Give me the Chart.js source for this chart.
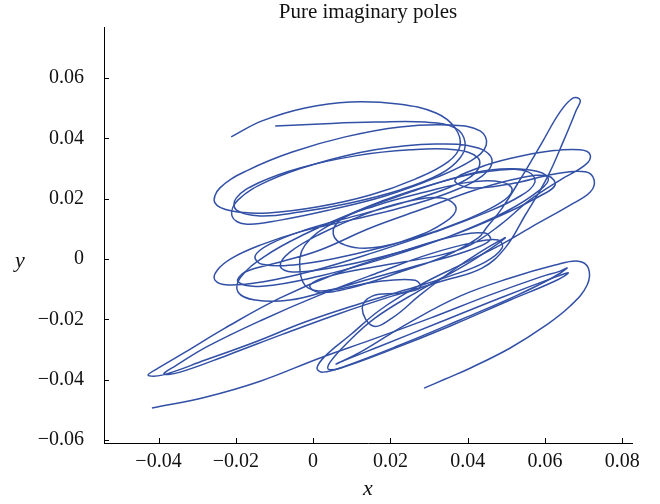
<!DOCTYPE html>
<html>
<head>
<meta charset="utf-8">
<script src="https://cdn.jsdelivr.net/npm/chart.js@4/dist/chart.umd.min.js"></script>
<style>
  body { margin: 0; background: #fff; }
  #wrap { width: 660px; height: 504px; }
</style>
</head>
<body>
<div id="wrap"><canvas id="chart" width="660" height="504"></canvas></div>
<script>
// trajectory, two pieces (x / y pairs)
const pieceAx = [-0.0212, -0.0132, -0.0021, 0.0096, 0.0220, 0.0318, 0.0367, 0.0380, 0.0349, 0.0264,
  0.0148, 0.0013, -0.0116, -0.0210, -0.0254, -0.0241, -0.0168, -0.0054, 0.0083, 0.0225,
  0.0355, 0.0432, 0.0448, 0.0411, 0.0316, 0.0186, 0.0044, -0.0085, -0.0176, -0.0210,
  -0.0194, -0.0116, 0.0005, 0.0160, 0.0316, 0.0427, 0.0463, 0.0437, 0.0349, 0.0225,
  0.0096, -0.0034, -0.0137, -0.0210, -0.0248, -0.0254, -0.0220, -0.0132, 0.0005, 0.0160,
  0.0316, 0.0445, 0.0536, 0.0574, 0.0556, 0.0484, 0.0367, 0.0238, 0.0109, -0.0021,
  -0.0124, -0.0189, -0.0194, -0.0150, -0.0060, 0.0044, 0.0173, 0.0303, 0.0406, 0.0458,
  0.0445, 0.0367, 0.0225, 0.0070, -0.0085, -0.0228, -0.0331, -0.0401, -0.0427, -0.0391,
  -0.0279, -0.0150, -0.0021, 0.0109, 0.0238, 0.0355, 0.0445, 0.0489, 0.0479, 0.0419,
  0.0303, 0.0173, 0.0018, -0.0132, -0.0272, -0.0357, -0.0386, -0.0344, -0.0220, -0.0078,
  0.0065, 0.0204, 0.0334, 0.0437, 0.0497, 0.0549, 0.0605, 0.0649, 0.0681, 0.0691,
  0.0673, 0.0639, 0.0593, 0.0541, 0.0489, 0.0448, 0.0427, 0.0342, 0.0225, 0.0096,
  0.0013, -0.0008, 0.0044, 0.0173, 0.0329, 0.0406, 0.0484, 0.0561, 0.0639, 0.0704,
  0.0717, 0.0691, 0.0613, 0.0515, 0.0427, 0.0367, 0.0406, 0.0510, 0.0626, 0.0704,
  0.0727, 0.0717, 0.0665, 0.0574, 0.0484, 0.0380, 0.0277, 0.0173, 0.0096, 0.0031,
  0.0010, 0.0026, 0.0083, 0.0225, 0.0380, 0.0523, 0.0618, 0.0657, 0.0639, 0.0587,
  0.0458, 0.0303, 0.0148, 0.0018, -0.0137, -0.0279, -0.0417];
const pieceAy = [0.0405, 0.0458, 0.0501, 0.0521, 0.0514, 0.0484, 0.0435, 0.0375, 0.0322, 0.0265,
  0.0212, 0.0173, 0.0153, 0.0159, 0.0186, 0.0236, 0.0295, 0.0355, 0.0405, 0.0438,
  0.0444, 0.0425, 0.0378, 0.0328, 0.0269, 0.0209, 0.0163, 0.0129, 0.0116, 0.0143,
  0.0196, 0.0259, 0.0315, 0.0362, 0.0381, 0.0368, 0.0328, 0.0275, 0.0219, 0.0169,
  0.0129, 0.0090, 0.0046, 0.0003, -0.0037, -0.0070, -0.0086, -0.0076, -0.0037, 0.0023,
  0.0090, 0.0153, 0.0209, 0.0255, 0.0289, 0.0295, 0.0269, 0.0216, 0.0156, 0.0083,
  0.0010, -0.0063, -0.0110, -0.0136, -0.0136, -0.0103, -0.0056, -0.0010, 0.0030, 0.0063,
  0.0086, 0.0076, 0.0023, -0.0043, -0.0129, -0.0229, -0.0309, -0.0362, -0.0385, -0.0385,
  -0.0335, -0.0275, -0.0209, -0.0153, -0.0103, -0.0056, -0.0010, 0.0037, 0.0063, 0.0056,
  0.0017, -0.0043, -0.0119, -0.0202, -0.0289, -0.0355, -0.0381, -0.0375, -0.0318, -0.0249,
  -0.0182, -0.0123, -0.0073, -0.0030, 0.0037, 0.0146, 0.0269, 0.0395, 0.0494, 0.0527,
  0.0534, 0.0488, 0.0388, 0.0275, 0.0169, 0.0103, 0.0070, 0.0010, -0.0043, -0.0096,
  -0.0110, -0.0086, -0.0056, -0.0023, 0.0013, 0.0046, 0.0113, 0.0196, 0.0262, 0.0312,
  0.0345, 0.0362, 0.0358, 0.0335, 0.0302, 0.0262, 0.0236, 0.0249, 0.0282, 0.0289,
  0.0262, 0.0222, 0.0179, 0.0113, 0.0046, -0.0020, -0.0086, -0.0169, -0.0252, -0.0322,
  -0.0362, -0.0375, -0.0355, -0.0285, -0.0202, -0.0123, -0.0063, -0.0030, -0.0040, -0.0060,
  -0.0119, -0.0196, -0.0269, -0.0328, -0.0405, -0.0458, -0.0494];

const pieceBx = [-0.0098, 0.0018, 0.0160, 0.0290, 0.0367, 0.0393, 0.0380, 0.0329, 0.0225, 0.0096,
  -0.0034, -0.0137, -0.0199, -0.0199, -0.0142, -0.0034, 0.0109, 0.0251, 0.0367, 0.0427,
  0.0422, 0.0355, 0.0238, 0.0109, -0.0021, -0.0111, -0.0150, -0.0132, -0.0034, 0.0109,
  0.0264, 0.0393, 0.0484, 0.0515, 0.0489, 0.0406, 0.0290, 0.0160, 0.0070, 0.0052,
  0.0083, 0.0153, 0.0256, 0.0342, 0.0370, 0.0334, 0.0238, 0.0135, 0.0018, -0.0060,
  -0.0085, -0.0054, 0.0044, 0.0186, 0.0342, 0.0484, 0.0587, 0.0626, 0.0608, 0.0536,
  0.0419, 0.0290, 0.0148, 0.0018,
  -0.0085, -0.0176, -0.0194, -0.0132, 0.0018, 0.0186, 0.0354, 0.0497, 0.0587, 0.0608,
  0.0561, 0.0458, 0.0329, 0.0186, 0.0057, -0.0021,
  -0.0034, -0.0013, 0.0044, 0.0160, 0.0264, 0.0277,
  0.0225, 0.0153, 0.0127, 0.0155, 0.0204, 0.0277, 0.0355, 0.0432, 0.0497, 0.0406,
  0.0277, 0.0160, 0.0083, 0.0044, 0.0039, 0.0070, 0.0199, 0.0355, 0.0510, 0.0626,
  0.0660, 0.0626, 0.0484, 0.0329, 0.0173, 0.0083, 0.0060, 0.0122, 0.0251, 0.0380,
  0.0510, 0.0626, 0.0686, 0.0712, 0.0709, 0.0665, 0.0600, 0.0510, 0.0406, 0.0342,
  0.0287];
const pieceBy = [0.0441, 0.0448, 0.0454, 0.0454, 0.0435, 0.0388, 0.0335, 0.0282, 0.0229, 0.0186,
  0.0156, 0.0143, 0.0163, 0.0202, 0.0252, 0.0302, 0.0342, 0.0362, 0.0362, 0.0335,
  0.0289, 0.0239, 0.0189, 0.0143, 0.0096, 0.0050, 0.0010, -0.0017, -0.0017, 0.0017,
  0.0070, 0.0129, 0.0186, 0.0229, 0.0255, 0.0255, 0.0222, 0.0176, 0.0129, 0.0083,
  0.0046, 0.0037, 0.0070, 0.0123, 0.0169, 0.0202, 0.0189, 0.0149, 0.0083, 0.0023,
  -0.0023, -0.0043, -0.0030, 0.0010, 0.0070, 0.0143, 0.0209, 0.0245, 0.0275, 0.0269,
  0.0229, 0.0169, 0.0103, 0.0030,
  -0.0010, -0.0043, -0.0076, -0.0090, -0.0056, 0.0003, 0.0076, 0.0156, 0.0229, 0.0269,
  0.0295, 0.0295, 0.0255, 0.0196, 0.0123, 0.0046,
  -0.0037, -0.0096, -0.0103, -0.0076, -0.0070, -0.0096,
  -0.0113, -0.0123, -0.0163, -0.0222, -0.0196, -0.0119, -0.0043, 0.0023, 0.0070, -0.0010,
  -0.0103, -0.0196, -0.0285, -0.0342, -0.0365, -0.0362, -0.0302, -0.0222, -0.0136, -0.0073,
  -0.0046, -0.0060, -0.0129, -0.0209, -0.0289, -0.0335, -0.0348, -0.0309, -0.0209, -0.0123,
  -0.0063, -0.0020, -0.0007, -0.0030, -0.0086, -0.0156, -0.0222, -0.0295, -0.0362, -0.0398,
  -0.0428];

const xTicks = [-0.04, -0.02, 0, 0.02, 0.04, 0.06, 0.08];
const yTicks = [-0.06, -0.04, -0.02, 0, 0.02, 0.04, 0.06];

const lineColor = '#3250a5';
const serif = "'Liberation Serif', 'DejaVu Serif', serif";

function toPoints(xs, ys) {
  return xs.map((x, i) => ({ x: x, y: ys[i] }));
}

function fmt(v) {
  if (Math.abs(v) < 1e-9) return '0';
  return (v < 0 ? '\u2212' : '') + Math.abs(v).toFixed(2);
}

// Mathematica-style ticks pointing into the plot, and the upright "y" label
const axisExtras = {
  id: 'axisExtras',
  afterDraw(chart) {
    const { ctx, chartArea, scales } = chart;
    ctx.save();
    ctx.strokeStyle = '#000';
    ctx.lineWidth = 1;
    ctx.beginPath();
    xTicks.forEach(v => {
      const px = Math.round(scales.x.getPixelForValue(v)) + 0.5;
      ctx.moveTo(px, chartArea.bottom);
      ctx.lineTo(px, chartArea.bottom - 5);
    });
    yTicks.forEach(v => {
      const py = Math.round(scales.y.getPixelForValue(v)) + 0.5;
      ctx.moveTo(chartArea.left, py);
      ctx.lineTo(chartArea.left + 5, py);
    });
    ctx.stroke();
    ctx.fillStyle = '#111';
    ctx.font = 'italic 22px ' + serif;
    ctx.textAlign = 'center';
    ctx.textBaseline = 'middle';
    ctx.fillText('y', 20, scales.y.getPixelForValue(0) + 2);
    ctx.restore();
  }
};

new Chart(document.getElementById('chart'), {
  type: 'scatter',
  data: {
    datasets: [
      { data: toPoints(pieceAx, pieceAy) },
      { data: toPoints(pieceBx, pieceBy) }
    ].map(d => Object.assign(d, {
      showLine: true,
      borderColor: lineColor,
      borderWidth: 1.5,
      pointRadius: 0,
      tension: 0.4,
      fill: false
    }))
  },
  options: {
    responsive: false,
    animation: false,
    devicePixelRatio: 1,
    layout: { padding: { left: 0, right: 28, top: 0, bottom: 0 } },
    plugins: {
      legend: { display: false },
      tooltip: { enabled: false },
      title: {
        display: true,
        text: 'Pure imaginary poles',
        fullSize: false,
        color: '#111',
        font: { family: serif, size: 21, weight: 'normal', lineHeight: 1.1 },
        padding: { top: 1, bottom: 3 }
      }
    },
    scales: {
      x: {
        type: 'linear',
        min: -0.0541,
        max: 0.0825,
        afterBuildTicks: s => { s.ticks = xTicks.map(v => ({ value: v })); },
        afterFit: s => { s.height = 61; },
        grid: { display: false, drawTicks: false },
        border: { display: true, color: '#000', width: 1 },
        ticks: {
          color: '#111',
          padding: 7,
          maxRotation: 0,
          font: { family: serif, size: 20 },
          callback: v => fmt(v)
        },
        title: {
          display: true,
          text: 'x',
          color: '#111',
          font: { family: serif, size: 22, style: 'italic' },
          padding: { top: 0, bottom: 2 }
        }
      },
      y: {
        type: 'linear',
        min: -0.0610,
        max: 0.0769,
        afterBuildTicks: s => { s.ticks = yTicks.map(v => ({ value: v })); },
        afterFit: s => { s.width = 104; s.paddingTop = 0; s.paddingBottom = 0; },
        grid: { display: false, drawTicks: false },
        border: { display: true, color: '#000', width: 1 },
        ticks: {
          color: '#111',
          padding: 20,
          font: { family: serif, size: 20 },
          callback: v => fmt(v)
        }
      }
    }
  },
  plugins: [axisExtras]
});
</script>
</body>
</html>
